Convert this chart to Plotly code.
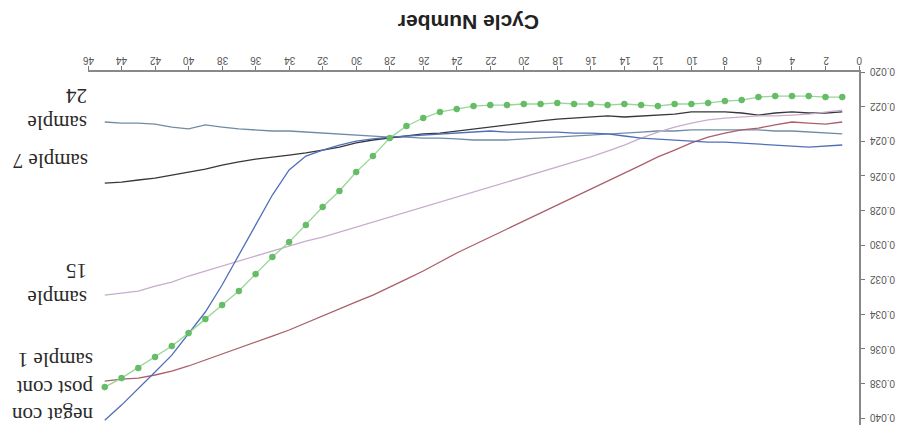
import plotly.graph_objects as go

cycles = list(range(1, 46))

post_cont = [0.02145, 0.02145, 0.02139, 0.02139, 0.02139, 0.02145, 0.02162, 0.02168, 0.02179, 0.02185,
             0.02185, 0.02197, 0.02191, 0.02185, 0.02191, 0.02185, 0.02185, 0.02179, 0.02185, 0.02185,
             0.02191, 0.02191, 0.02197, 0.02214, 0.02231, 0.02266, 0.02312, 0.02382, 0.02486, 0.02578,
             0.02688, 0.02780, 0.02884, 0.02983, 0.03069, 0.03168, 0.03266, 0.03347, 0.03428, 0.03509,
             0.03584, 0.03647, 0.03711, 0.03769, 0.03821]

negat_con = [0.02422, 0.02428, 0.02434, 0.02428, 0.02422, 0.02416, 0.02410, 0.02405, 0.02405, 0.02399,
             0.02393, 0.02387, 0.02382, 0.02370, 0.02358, 0.02353, 0.02353, 0.02347, 0.02347, 0.02347,
             0.02347, 0.02341, 0.02347, 0.02353, 0.02358, 0.02364, 0.02370, 0.02376, 0.02387, 0.02399,
             0.02422, 0.02451, 0.02486, 0.02566, 0.02711, 0.02884, 0.03064, 0.03231, 0.03387, 0.03514,
             0.03636, 0.03734, 0.03832, 0.03925, 0.04012]

sample_1 = [0.02289, 0.02301, 0.02295, 0.02289, 0.02306, 0.02324, 0.02335, 0.02353, 0.02376, 0.02410,
            0.02451, 0.02491, 0.02538, 0.02584, 0.02630, 0.02676, 0.02723, 0.02769, 0.02815, 0.02861,
            0.02908, 0.02954, 0.03000, 0.03046, 0.03098, 0.03150, 0.03197, 0.03243, 0.03289, 0.03329,
            0.03370, 0.03410, 0.03451, 0.03491, 0.03526, 0.03561, 0.03595, 0.03630, 0.03665, 0.03699,
            0.03728, 0.03751, 0.03769, 0.03775, 0.03786]

sample_15 = [0.02220, 0.02231, 0.02243, 0.02249, 0.02254, 0.02254, 0.02260, 0.02266, 0.02277, 0.02295,
             0.02318, 0.02347, 0.02382, 0.02422, 0.02457, 0.02491, 0.02520, 0.02549, 0.02578, 0.02607,
             0.02636, 0.02665, 0.02694, 0.02723, 0.02751, 0.02780, 0.02809, 0.02838, 0.02867, 0.02896,
             0.02925, 0.02954, 0.02977, 0.03006, 0.03035, 0.03064, 0.03092, 0.03121, 0.03150, 0.03179,
             0.03214, 0.03237, 0.03266, 0.03277, 0.03289]

sample_7 = [0.02231, 0.02237, 0.02237, 0.02231, 0.02237, 0.02249, 0.02237, 0.02231, 0.02231, 0.02231,
            0.02243, 0.02249, 0.02254, 0.02260, 0.02254, 0.02260, 0.02266, 0.02272, 0.02283, 0.02295,
            0.02306, 0.02318, 0.02329, 0.02341, 0.02353, 0.02358, 0.02370, 0.02382, 0.02393, 0.02410,
            0.02434, 0.02451, 0.02468, 0.02480, 0.02491, 0.02503, 0.02520, 0.02538, 0.02561, 0.02578,
            0.02595, 0.02613, 0.02624, 0.02636, 0.02642]

sample_24 = [0.02358, 0.02353, 0.02347, 0.02341, 0.02341, 0.02335, 0.02335, 0.02335, 0.02335, 0.02335,
             0.02341, 0.02341, 0.02347, 0.02353, 0.02358, 0.02364, 0.02370, 0.02376, 0.02382, 0.02387,
             0.02393, 0.02393, 0.02393, 0.02387, 0.02382, 0.02382, 0.02376, 0.02376, 0.02370, 0.02364,
             0.02358, 0.02353, 0.02347, 0.02341, 0.02341, 0.02335, 0.02329, 0.02318, 0.02306, 0.02329,
             0.02318, 0.02301, 0.02295, 0.02295, 0.02289]

x_ticks = list(range(0, 47, 2))
y_tickvals = [0.020, 0.022, 0.024, 0.026, 0.028, 0.030, 0.032, 0.034, 0.036, 0.038, 0.040]
y_ticktext = ["0.020", "0.022", "0.024", "0.026", "0.028", "0.030", "0.032", "0.034", "0.036", "0.038", "0.040"]

series_labels = ["sample<br>24", "sample 7", "sample<br>15", "negat con<br>post cont<br>sample 1"]

fig = go.Figure()

line_series = [
    (sample_24, "rgb(112,140,165)"),
    (sample_7, "rgb(55,55,60)"),
    (sample_15, "rgb(200,172,205)"),
    (sample_1, "rgb(170,95,105)"),
    (negat_con, "rgb(80,110,185)"),
]
for ys, col in line_series:
    fig.add_trace(go.Scatter(x=cycles, y=ys, mode="lines",
                             line=dict(color=col, width=1.3), showlegend=False))

fig.add_trace(go.Scatter(x=cycles, y=post_cont, mode="lines+markers",
                         line=dict(color="rgb(150,215,150)", width=1.3),
                         marker=dict(color="rgb(100,190,100)", size=6,
                                     line=dict(color="rgb(90,170,90)", width=0.5)),
                         showlegend=False))

# page body adds an 8px offset; figure sized to fit the 903x435 window
OFF = 8
W, H = 903 - 2 * OFF, 435 - 2 * OFF
L, T = 88 - OFF, 72 - OFF
R = W - (859 - OFF)
B = H - (425 - OFF)
pw, ph = W - L - R, H - T - B

def px(xp):
    return (xp - OFF - L) / pw

def py(yp):
    return (H - B - (yp - OFF)) / ph

label_pos = [(58, 109), (51, 161), (58, 285), (52, 388)]
for text, (xp, yp) in zip(series_labels, label_pos):
    fig.add_annotation(text=text, xref="paper", yref="paper", x=px(xp), y=py(yp),
                       xanchor="center", yanchor="middle", showarrow=False, textangle=180,
                       align="left",
                       font=dict(family="Liberation Serif", size=21, color="#2a2a2a"))

fig.add_annotation(text="<b>Cycle Number</b>", xref="paper", yref="paper",
                   x=px(469), y=py(23), xanchor="center", yanchor="middle",
                   showarrow=False, textangle=180,
                   font=dict(family="Liberation Sans", size=21, color="#222"))

tick_font = dict(family="Liberation Sans", size=10, color="#555")
for v in x_ticks:
    fig.add_annotation(text=str(v), xref="x", yref="paper", x=v, y=py(61),
                       xanchor="center", yanchor="middle", showarrow=False,
                       textangle=180, font=tick_font)
for v, t in zip(y_tickvals, y_ticktext):
    fig.add_annotation(text=t, xref="paper", yref="y", x=px(882), y=v,
                       xanchor="center", yanchor="middle", showarrow=False,
                       textangle=180, font=tick_font)

fig.update_layout(
    width=W, height=H,
    margin=dict(l=L, r=R, t=T, b=B),
    paper_bgcolor="white", plot_bgcolor="white",
    xaxis=dict(range=[46, 0], side="top", tickvals=x_ticks, showticklabels=False,
               ticks="outside", ticklen=4, tickcolor="#777", automargin=False,
               showline=True, linecolor="#888", linewidth=2,
               showgrid=False, zeroline=False),
    yaxis=dict(range=[0.0404, 0.020], side="right", tickvals=y_tickvals, showticklabels=False,
               ticks="outside", ticklen=4, tickcolor="#777", automargin=False,
               showline=True, linecolor="#888", linewidth=2,
               showgrid=False, zeroline=False),
)

fig.write_html("out.html")
